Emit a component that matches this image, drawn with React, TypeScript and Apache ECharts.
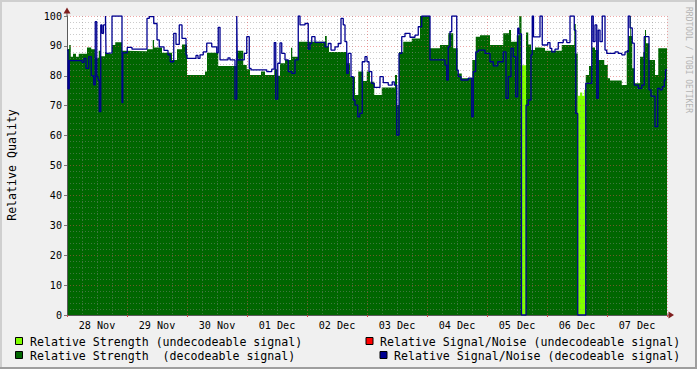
import React, { useEffect, useRef } from 'react';
import * as echarts from 'echarts';

// hours since 28 Nov 00:00, value (step: holds until next point)
const dayLabels = ['28 Nov', '29 Nov', '30 Nov', '01 Dec', '02 Dec', '03 Dec', '04 Dec', '05 Dec', '06 Dec', '07 Dec'];

const strengthDecodeable: [number, number][] = [
  [0.0, 89], [0.9, 90.3], [1.5, 86.4], [2.4, 87.4], [3.6, 86.4], [4.7, 87.4], [8.0, 89.5], [9.7, 88.9],
  [11.3, 86], [12.7, 88.4], [13.6, 86.5], [15.2, 88], [15.6, 87.5], [18.0, 90.3], [19.3, 91.2], [22.0, 88.4],
  [22.8, 88.2], [32.0, 88.9], [34.3, 92], [34.8, 89.5], [38.0, 87.7], [42.0, 85.3], [44.0, 88.9], [46.0, 90.5],
  [48.0, 80.3], [55.2, 81.4], [56.0, 87.7], [60.5, 83.3], [67.9, 88.4], [70.5, 83.6], [71.9, 82.2], [73.2, 80.3],
  [77.6, 81.4], [79.2, 80.3], [82.9, 82.2], [84.0, 80], [85.2, 84.2], [87.2, 85.3], [89.6, 89.4], [90.1, 86.4],
  [92.5, 91.4], [103.2, 93.3], [103.9, 89.7], [104.8, 88], [111.9, 84.2], [113.2, 79.7], [115.2, 73.6],
  [116.5, 81.4], [118.5, 78.3], [119.9, 81.4], [121.2, 78], [122.9, 73.6], [125.9, 76.1], [131.2, 80.3],
  [132.0, 70.2], [132.8, 88], [134.5, 91.4], [137.9, 92.5], [141.2, 100], [145.2, 89.2], [149.2, 90.3],
  [152.5, 94.2], [154.5, 89.2], [156.3, 80.8], [157.9, 79.2], [162.1, 85.3], [163.5, 93.1], [165.2, 93.6],
  [169.2, 90.3], [174.5, 94.2], [176.8, 95.3], [177.6, 91.4], [179.9, 93.6], [180.9, 100], [181.8, 0],
  [183.6, 94.5], [184.5, 90.5], [185.6, 88.6], [187.2, 89.5], [189.2, 89.3], [191.2, 88.4], [197.9, 90.3],
  [202.9, 97.3], [203.5, 87.5], [204.3, 0], [207.5, 80.3], [208.8, 83.3], [209.9, 89.5], [211.2, 88.6],
  [212.5, 85.3], [214.9, 83.6], [216.3, 79.2], [217.2, 78.4], [221.9, 76.9], [223.9, 88.6], [224.6, 93.3],
  [225.3, 100], [225.6, 93.3], [226.1, 82.5], [226.9, 77.5], [229.2, 86.4], [230.5, 88], [231.2, 95.3],
  [231.6, 90.9], [232.9, 85.3], [235.2, 80.3], [236.5, 89.2], [240, 89.2],
];

const strengthUndecodeable: [number, number][] = [
  [0, 0], [181.8, 83.5], [183.6, 0], [204.3, 73.3], [205.2, 74.4], [206.1, 73.3], [206.9, 75.3], [207.5, 0], [240, 0],
];

const snrDecodeable: [number, number][] = [
  [0.0, 88.6], [0.4, 75.6], [0.9, 85.1], [6.0, 84.5], [6.8, 85.8], [7.6, 82.5], [8.7, 86.4], [9.7, 80],
  [10.7, 77], [11.3, 98.1], [11.9, 79.7], [12.4, 78.6], [12.9, 68], [13.5, 97], [14.0, 94.2], [14.6, 97],
  [15.4, 100], [15.6, 87.5], [16.1, 87.7], [18.0, 100], [22.0, 71], [22.3, 87.7], [24.1, 89.5], [26.0, 88.9],
  [32.0, 99.2], [32.9, 99.8], [34.7, 97.5], [36.0, 92], [36.9, 89.7], [38.8, 88.5], [40.4, 87], [41.3, 84.7],
  [42.7, 94.2], [43.6, 90.5], [44.9, 97], [46.0, 92.5], [47.6, 87], [48.0, 85.8], [51.6, 86.8], [52.4, 85.8],
  [53.2, 87], [54.5, 88], [55.9, 90.9], [57.9, 89.7], [59.9, 87.7], [60.5, 96.2], [61.2, 85.3], [64.4, 86],
  [65.2, 85.3], [67.2, 72.2], [67.9, 100], [68.1, 85.3], [70.9, 87.5], [71.9, 93.1], [72.9, 82.5], [73.6, 82],
  [79.9, 81.4], [81.9, 82.2], [82.9, 91.1], [83.5, 72.2], [84.3, 84.2], [85.2, 91], [85.9, 87.5], [87.2, 85.3],
  [88.5, 81.4], [89.9, 80.8], [91.2, 85.3], [92.5, 100], [93.2, 97], [95.2, 97.5], [96.5, 88.9], [97.2, 90.8],
  [97.9, 93.1], [99.2, 91.2], [103.2, 89.7], [104.5, 90.8], [105.6, 88.6], [107.2, 89.7], [108.5, 90.8],
  [109.6, 99.2], [110.5, 97], [111.2, 91.4], [111.9, 80.8], [112.5, 87.5], [113.6, 79.7], [114.5, 71.9],
  [115.2, 70.2], [116.3, 66.3], [117.1, 67.4], [118.1, 84.7], [119.2, 86.4], [120.0, 84.7], [120.8, 81.4],
  [121.9, 77.5], [122.9, 76.1], [125.2, 79.7], [126.5, 77.7], [128.5, 76.9], [130.1, 78], [130.9, 76.9],
  [131.9, 60.2], [132.8, 87.5], [133.9, 93.1], [135.2, 94.2], [137.2, 92.9], [139.2, 93.6], [140.5, 96.4],
  [141.9, 100], [145.2, 85.3], [151.2, 83.6], [151.9, 78.6], [152.5, 89.7], [153.2, 94.8], [153.9, 100],
  [155.9, 81.9], [156.5, 79.7], [157.6, 78.6], [160.5, 79.2], [161.9, 66.3], [162.5, 81.4], [163.5, 88],
  [164.5, 88.6], [167.2, 87.5], [169.2, 84.7], [170.5, 83.3], [172.3, 84.7], [174.5, 88], [175.6, 72.5],
  [176.5, 79.7], [177.6, 89.2], [178.5, 86.4], [179.5, 73], [180.3, 95.9], [180.8, 94], [181.8, 0],
  [183.6, 70.2], [184.5, 71.9], [185.6, 87], [186.1, 100], [186.6, 93], [189.2, 100], [190.1, 90.3],
  [192.3, 91.1], [193.2, 89.2], [193.9, 88], [195.2, 88.9], [196.5, 91.1], [198.5, 92], [199.9, 91.1],
  [201.2, 100], [202.9, 95.3], [203.5, 67.4], [204.3, 0], [207.5, 77.5], [209.9, 100], [210.5, 91.4],
  [211.2, 97], [211.9, 72.5], [212.5, 95.3], [213.2, 91.4], [214.1, 100], [215.2, 88.6], [215.9, 87.5],
  [219.2, 88], [220.5, 87.5], [221.9, 87], [223.2, 88], [224.5, 100], [225.2, 96], [226.1, 90.9],
  [226.9, 76.9], [228.5, 75.8], [229.9, 76.9], [230.9, 93.1], [232.8, 75.3], [233.6, 73.2], [235.2, 63],
  [236.3, 75.8], [237.2, 75.3], [238.1, 76.4], [238.9, 78.6], [239.4, 82], [240, 82],
];

const snrUndecodeable: [number, number][] = [];

const legendItems = [
  { label: 'Relative Strength (undecodeable signal)', color: '#80FF00' },
  { label: 'Relative Signal/Noise (undecodeable signal)', color: '#FF0000' },
  { label: 'Relative Strength  (decodeable signal)', color: '#006600' },
  { label: 'Relative Signal/Noise (decodeable signal)', color: '#000090' },
];

const MONO = 'DejaVu Sans Mono';
const AXIS_COLOR = '#5a5a5a';
const MAJOR = 'rgba(222,80,80,0.5)';
const MINOR = 'rgba(140,140,140,0.45)';

export default function App() {
  const ref = useRef<HTMLDivElement>(null);
  useEffect(() => {
    document.body.style.margin = '0';
    const chart = echarts.init(ref.current!, null, { renderer: 'svg' });
    const legendPos = [
      { rx: 15, ry: 337, tx: 30, ty: 341.5 },
      { rx: 365.5, ry: 337, tx: 380, ty: 341.5 },
      { rx: 15, ry: 351, tx: 30, ty: 355.5 },
      { rx: 379.5, ry: 351, tx: 394, ty: 355.5 },
    ];
    const graphics: any[] = [
      { type: 'rect', shape: { x: 0, y: 0, width: 697, height: 2 }, style: { fill: '#CFCFCF' }, silent: true },
      { type: 'rect', shape: { x: 0, y: 0, width: 2, height: 369 }, style: { fill: '#CFCFCF' }, silent: true },
      { type: 'rect', shape: { x: 0, y: 367, width: 697, height: 2 }, style: { fill: '#9E9E9E' }, silent: true },
      { type: 'rect', shape: { x: 695, y: 0, width: 2, height: 369 }, style: { fill: '#9E9E9E' }, silent: true },
      { type: 'line', shape: { x1: 67, y1: 16, x2: 67, y2: 12 }, style: { stroke: AXIS_COLOR, lineWidth: 1 }, silent: true },
      { type: 'line', shape: { x1: 667, y1: 315, x2: 670, y2: 315 }, style: { stroke: AXIS_COLOR, lineWidth: 1 }, silent: true },
      { type: 'polygon', shape: { points: [[63.5, 13.5], [70.5, 13.5], [67, 7.5]] }, style: { fill: '#7F1F1F' }, silent: true, z: 10 },
      { type: 'polygon', shape: { points: [[668.5, 311.5], [668.5, 318.5], [674, 315]] }, style: { fill: '#7F1F1F' }, silent: true, z: 10 },
      {
        type: 'text', x: 12, y: 165, rotation: Math.PI / 2,
        style: { text: 'Relative Quality', font: `11.6px "${MONO}"`, fill: '#000', align: 'center', verticalAlign: 'middle' }, silent: true,
      },
      {
        type: 'text', x: 688, y: 60, rotation: -Math.PI / 2,
        style: { text: 'RRDTOOL / TOBI OETIKER', font: `8px "${MONO}"`, fill: '#b4b4b4', align: 'center', verticalAlign: 'middle' }, silent: true,
      },
    ];
    legendItems.forEach((it, i) => {
      const p = legendPos[i];
      graphics.push({ type: 'rect', shape: { x: p.rx + 0.5, y: p.ry + 0.5, width: 7, height: 7 }, style: { fill: it.color, stroke: '#000', lineWidth: 1 }, silent: true });
      graphics.push({ type: 'text', x: p.tx, y: p.ty, style: { text: it.label, font: `11.6px "${MONO}"`, fill: '#000', align: 'left', verticalAlign: 'middle' }, silent: true });
    });

    const stepSeries = (name: string, data: [number, number][], color: string, area: boolean, z: number) => ({
      type: 'line', name, data, step: 'end', showSymbol: false, symbol: 'none', silent: true, z,
      xAxisIndex: 0, yAxisIndex: 0,
      lineStyle: area ? { width: 0, opacity: 0 } : { width: 1.3, color },
      areaStyle: area ? { color, opacity: 1 } : undefined,
      itemStyle: { color },
    });

    chart.setOption({
      animation: false,
      backgroundColor: '#F0F0F0',
      grid: { left: 67, top: 16, width: 600, height: 299, show: true, backgroundColor: '#FFFFFF', borderWidth: 0 },
      xAxis: [
        {
          type: 'value', min: 0, max: 240, interval: 24, position: 'bottom', z: 3,
          axisLine: { show: true, onZero: false, lineStyle: { color: AXIS_COLOR, width: 1 } },
          axisTick: { show: true, length: 2, lineStyle: { color: '#d05050' } },
          axisLabel: { show: false },
          splitLine: { show: true, lineStyle: { color: MAJOR, type: [1, 2], width: 1 } },
          minorTick: { show: false, splitNumber: 4 },
          minorSplitLine: { show: true, lineStyle: { color: MINOR, type: [1, 2], width: 1 } },
        },
        {
          type: 'value', min: 0, max: 240, interval: 12, position: 'bottom', z: 3,
          axisLine: { show: false }, axisTick: { show: false }, splitLine: { show: false },
          axisLabel: {
            show: true, margin: 5, fontFamily: MONO, fontSize: 10.15, color: '#000',
            formatter: (v: number) => (Math.round(v) % 24 === 12 ? dayLabels[Math.floor(v / 24)] : ''),
          },
        },
      ],
      yAxis: {
        type: 'value', min: 0, max: 100, interval: 10, z: 3,
        axisLine: { show: true, lineStyle: { color: AXIS_COLOR, width: 1 } },
        axisTick: { show: true, length: 3, lineStyle: { color: '#777' } },
        axisLabel: { margin: 5, fontFamily: MONO, fontSize: 10.15, color: '#000' },
        splitLine: { show: true, lineStyle: { color: MAJOR, type: [1, 2], width: 1 } },
        minorTick: { show: false, splitNumber: 5 },
        minorSplitLine: { show: true, lineStyle: { color: MINOR, type: [1, 2], width: 1 } },
      },
      series: [
        stepSeries('Relative Strength (decodeable signal)', strengthDecodeable, '#006600', true, 2),
        stepSeries('Relative Strength (undecodeable signal)', strengthUndecodeable, '#80FF00', true, 2),
        stepSeries('Relative Signal/Noise (undecodeable signal)', snrUndecodeable, '#FF0000', false, 4),
        stepSeries('Relative Signal/Noise (decodeable signal)', snrDecodeable, '#000090', false, 4),
      ],
      graphic: graphics,
    });
    return () => chart.dispose();
  }, []);
  return <div ref={ref} style={{ width: 697, height: 369, position: 'fixed', left: 0, top: 0 }} />;
}
